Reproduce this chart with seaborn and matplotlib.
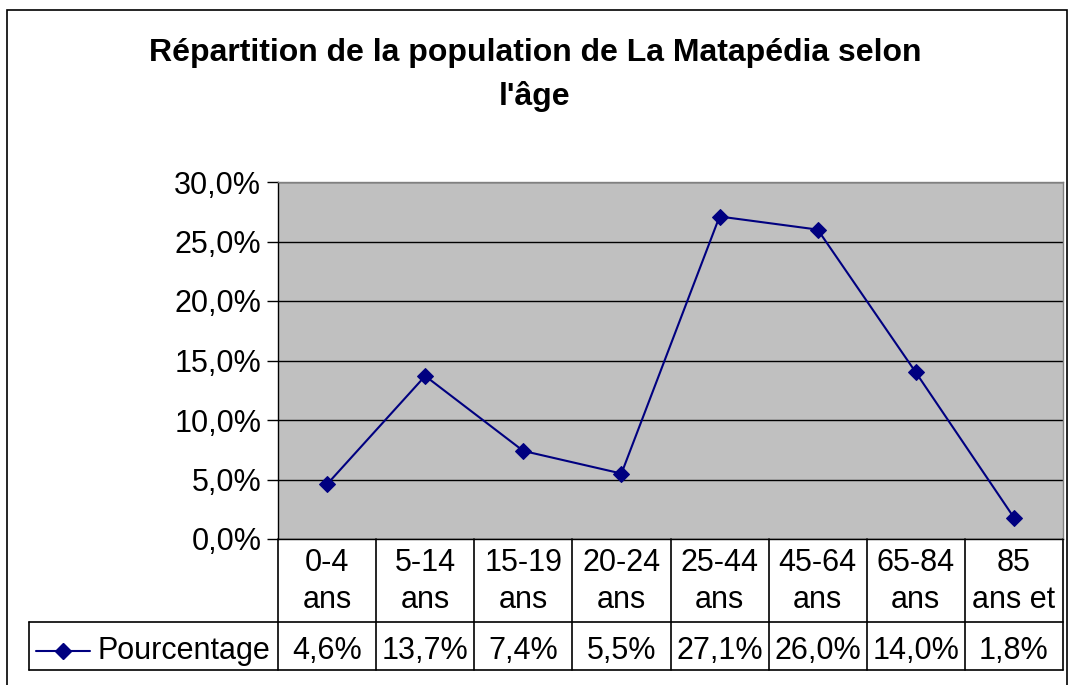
import matplotlib
matplotlib.use("Agg")
import matplotlib.pyplot as plt
import matplotlib.transforms as mtransforms
from matplotlib.lines import Line2D
from matplotlib.patches import Rectangle
import seaborn as sns

categories = ["0-4\nans", "5-14\nans", "15-19\nans", "20-24\nans",
              "25-44\nans", "45-64\nans", "65-84\nans", "85\nans et"]
pourcentage = [4.6, 13.7, 7.4, 5.5, 27.1, 26.0, 14.0, 1.8]
yticks = [0, 5, 10, 15, 20, 25, 30]

sns.set_style("white")
plt.rcParams['font.family'] = ['Liberation Sans', 'DejaVu Sans']
plt.rcParams['text.color'] = 'black'
plt.rcParams['ytick.color'] = 'black'
plt.rcParams['xtick.color'] = 'black'

W, H = 1070, 685
fig = plt.figure(figsize=(W / 100, H / 100), dpi=100)
fs = 22


def fx(x):
    return x / W


def fy(y):
    return 1 - y / H


# zone de tracé
ax = fig.add_axes([fx(278), fy(539), fx(1063) - fx(278), fy(182) - fy(539)])
ax.set_facecolor("#c0c0c0")
x_idx = list(range(len(categories)))
sns.lineplot(x=x_idx, y=pourcentage, ax=ax, color="#000080", marker="D",
             markersize=8, markeredgecolor="#000080", linewidth=1.5)
ax.set_xlim(-0.5, len(categories) - 0.5)
ax.set_ylim(0, 30)
ax.set_yticks(yticks)
ax.set_yticklabels([f"{v:.1f}%".replace(".", ",") for v in yticks], fontsize=fs)
ax.set_xticks([])
ax.yaxis.grid(True, color="black", linewidth=1)
ax.set_axisbelow(True)
ax.tick_params(axis="y", direction="out", length=8, width=1, color="black", pad=4, left=True)
for s in ax.spines.values():
    s.set_color("#808080")
    s.set_linewidth(1)
ax.spines["left"].set_color("black")
ax.spines["bottom"].set_color("black")

# titre
fig.text(0.5, fy(53), "Répartition de la population de La Matapédia selon",
         ha="center", va="center", fontsize=23, fontweight="bold")
fig.text(0.5, fy(97), "l'âge", ha="center", va="center", fontsize=23, fontweight="bold")

# cadre du graphique
fig.add_artist(Rectangle((fx(7), -0.02), fx(1067) - fx(7), fy(10) + 0.02,
                         transform=fig.transFigure, fill=False, edgecolor="black", linewidth=1.2))

# table de données
trans = mtransforms.blended_transform_factory(ax.transData, fig.transFigure)
lc = "black"
lw = 1.2
for i in range(len(categories) + 1):
    ax.add_line(Line2D([i - 0.5, i - 0.5], [fy(539), fy(670)], transform=trans,
                       color=lc, linewidth=lw, clip_on=False))
for yy in (622, 670):
    fig.add_artist(Line2D([fx(29), fx(1063)], [fy(yy), fy(yy)], transform=fig.transFigure,
                          color=lc, linewidth=lw))
fig.add_artist(Line2D([fx(29), fx(29)], [fy(622), fy(670)], transform=fig.transFigure,
                      color=lc, linewidth=lw))

for i, (cat, val) in enumerate(zip(categories, pourcentage)):
    l1, l2 = cat.split("\n")
    ax.text(i, fy(563), l1, transform=trans, ha="center", va="center", fontsize=fs)
    ax.text(i, fy(600), l2, transform=trans, ha="center", va="center", fontsize=fs)
    ax.text(i, fy(651), f"{val:.1f}%".replace(".", ","), transform=trans,
            ha="center", va="center", fontsize=fs)

# légende dans la table
fig.add_artist(Line2D([fx(36), fx(90)], [fy(651), fy(651)], transform=fig.transFigure,
                      color="#000080", linewidth=1.5))
fig.add_artist(Line2D([fx(63)], [fy(651)], transform=fig.transFigure, color="#000080",
                      marker="D", markersize=8, linestyle="none"))
fig.text(fx(97), fy(651), "Pourcentage", ha="left", va="center", fontsize=fs)

fig.savefig("out.png", dpi=100)
